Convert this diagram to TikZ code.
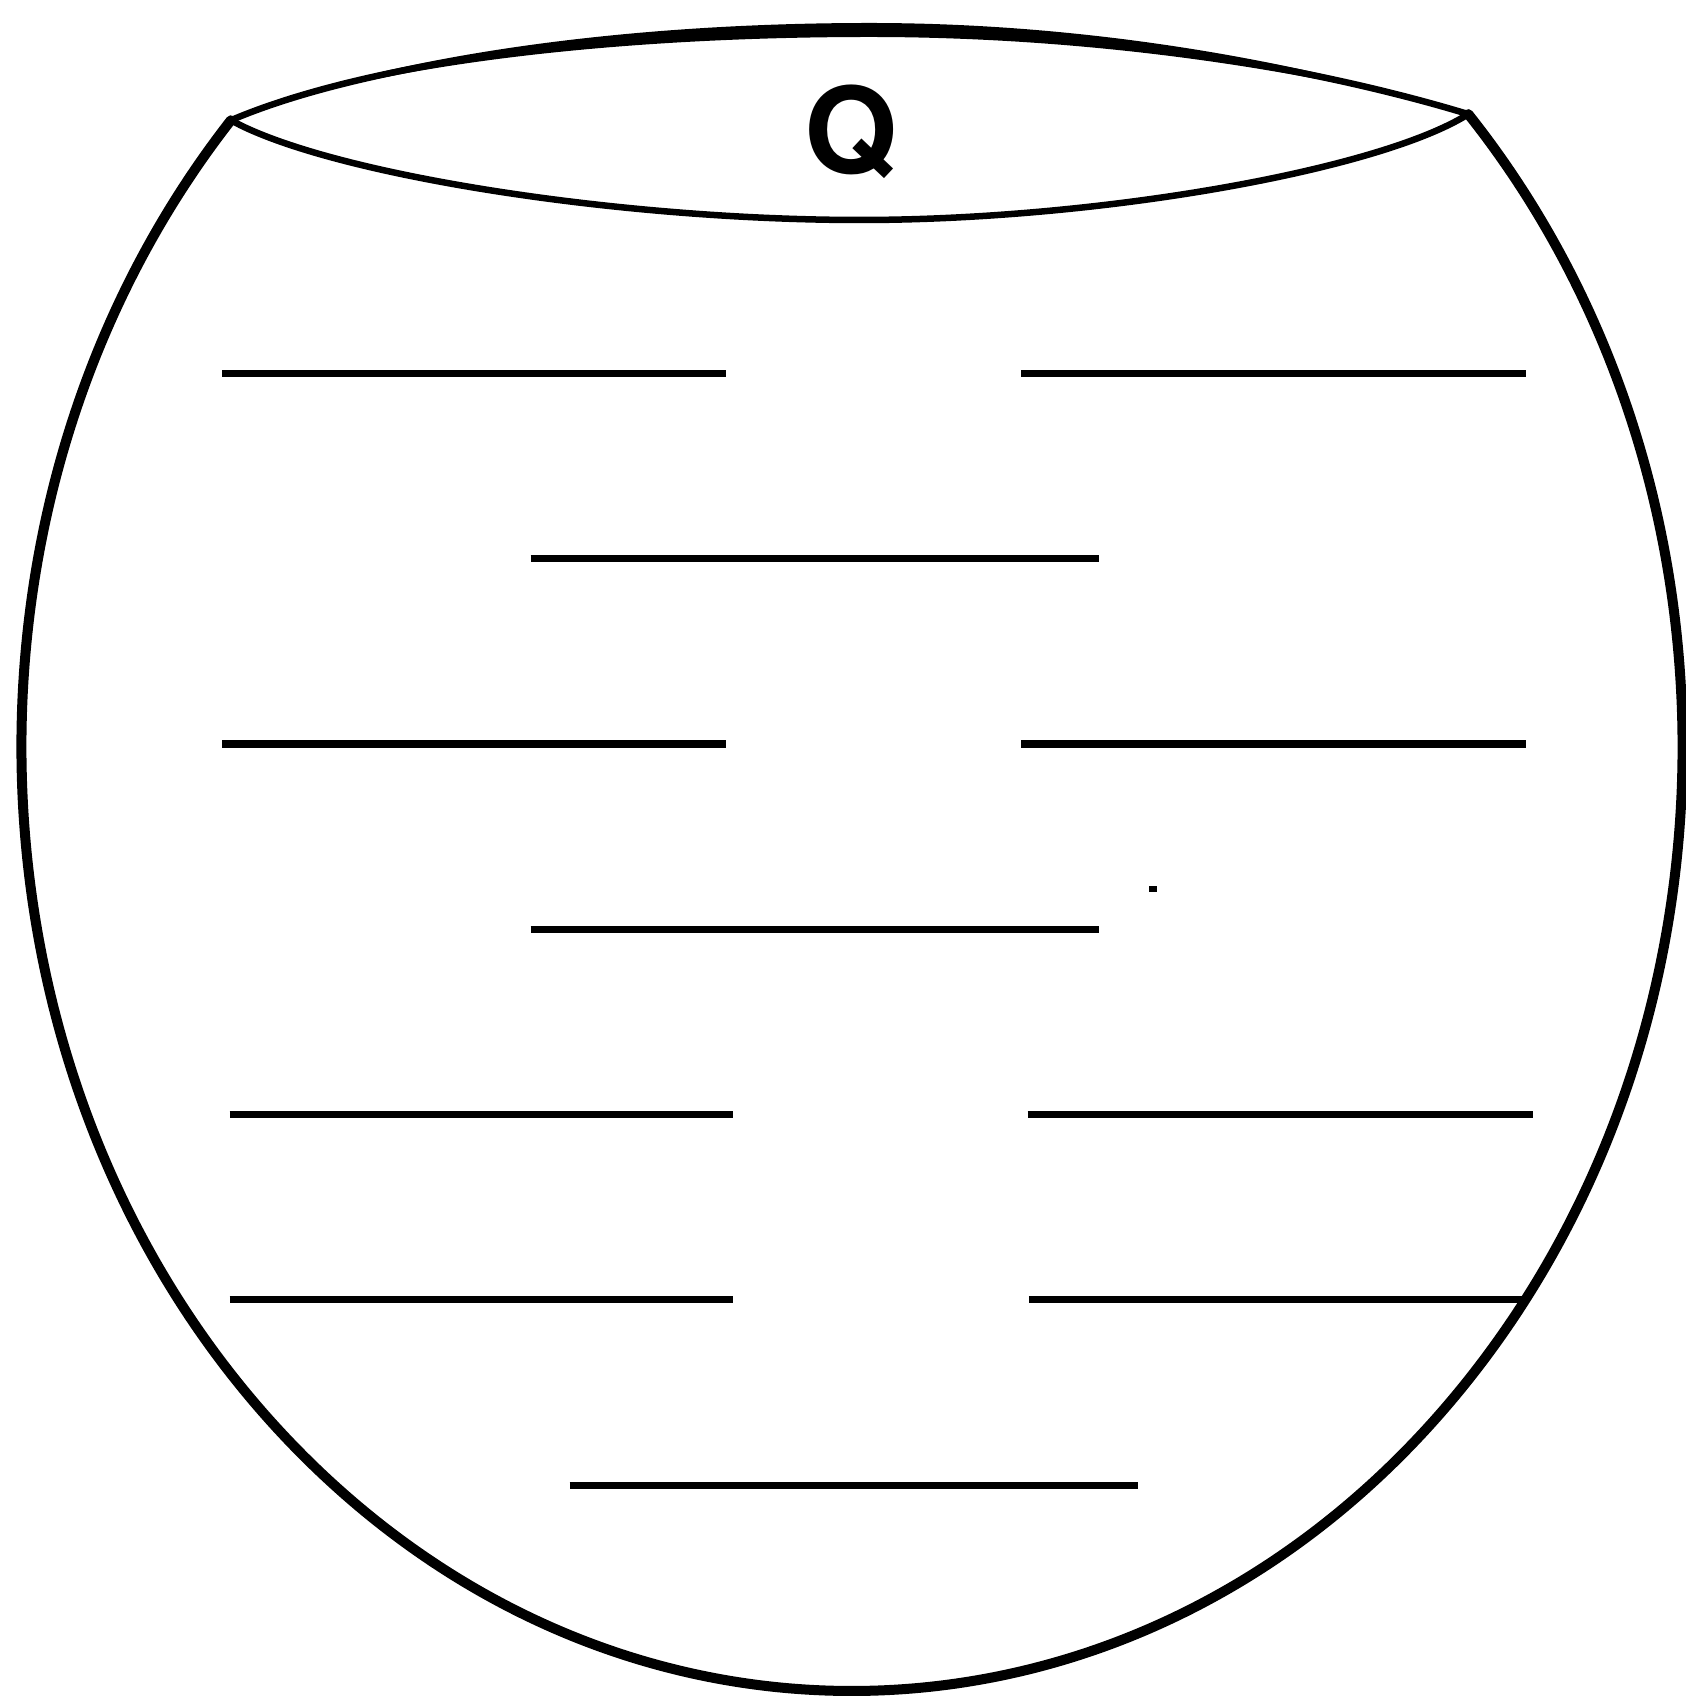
\documentclass[tikz,border=0pt]{standalone}
\usepackage{fontspec}
\setmainfont{TeX Gyre Heros}
\begin{document}
\begin{tikzpicture}[x=0.01cm,y=-0.01cm,
  body/.style={line width=0.10cm,line cap=round,line join=round},
  rimtop/.style={line width=0.065cm,line cap=round},
  rimbot/.style={line width=0.065cm,line cap=round},
  level/.style={line width=0.07cm},
  lbl/.style={font=\bfseries\fontsize{34}{34}\selectfont,inner sep=0pt}]
\useasboundingbox (0,0) rectangle (1686,1698);
\coordinate (C) at (852,747);
\path (C) ++(221.6:830.6 and 944) coordinate (L);
\path (C) ++(-42.1:830.6 and 944) coordinate (R);
% bowl outline
\draw[body] (L) arc[start angle=221.6,end angle=-42.1,x radius=830.6,y radius=944];
% rim (lens): upper edge as a band, thicker in the middle
\fill (L) .. controls (360,62) and (600,23) .. (870,23) .. controls (1120,23) and (1340,72) .. (R)
      .. controls (1340,78) and (1120,37) .. (870,37) .. controls (600,37) and (360,68) .. (L) -- cycle;
\draw[rimtop] (L) .. controls (360,65) and (600,30) .. (870,30) .. controls (1120,30) and (1340,75) .. (R);
\draw[rimbot] (L) .. controls (330,175) and (620,220) .. (860,220) .. controls (1100,220) and (1380,170) .. (R);
\node[lbl,anchor=base] (q) at (851,174) {Q};
% levels
\coordinate (a1) at (222,373.6); \coordinate (a2) at (725.5,373.6);
\coordinate (b1) at (1021,373.6); \coordinate (b2) at (1526,373.6);
\coordinate (c1) at (530.6,558.8); \coordinate (c2) at (1099,558.8);
\coordinate (d1) at (222,744); \coordinate (d2) at (725.5,744);
\coordinate (e1) at (1021,744); \coordinate (e2) at (1526,744);
\coordinate (f1) at (530.6,929); \coordinate (f2) at (1099,929);
\coordinate (g1) at (229.6,1114); \coordinate (g2) at (733,1114);
\coordinate (h1) at (1027.7,1114); \coordinate (h2) at (1533,1114);
\coordinate (i1) at (229.6,1299.5); \coordinate (i2) at (733,1299.5);
\coordinate (j1) at (1028.8,1299.5); \coordinate (j2) at (1527,1299.5);
\coordinate (k1) at (569.6,1485.7); \coordinate (k2) at (1138,1485.7);
\foreach \p in {a,b,c,d,e,f,g,h,i,j,k}{\draw[level] (\p1) -- (\p2);}
% speck
\fill (1149,886) rectangle (1157,892);
\end{tikzpicture}
\end{document}
